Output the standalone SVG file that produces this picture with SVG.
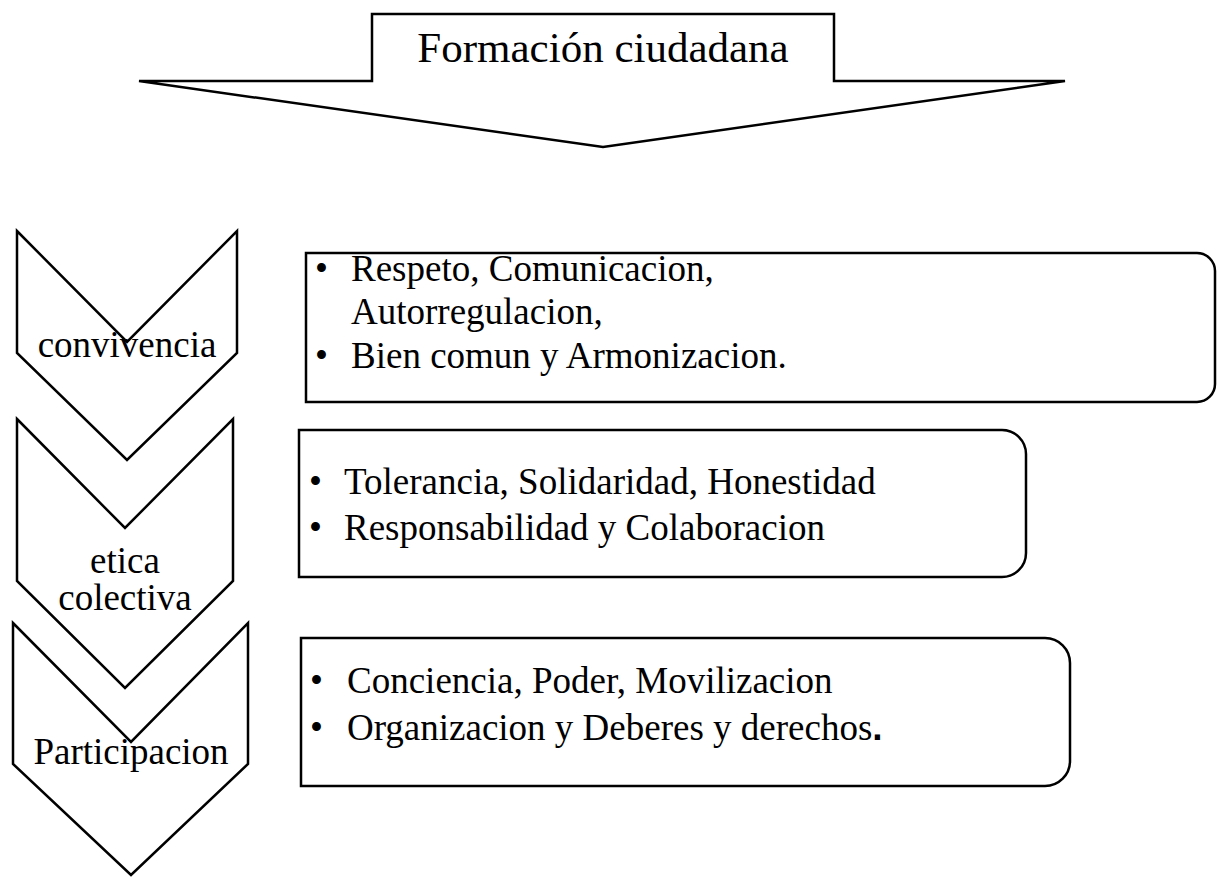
<svg xmlns="http://www.w3.org/2000/svg" width="1217" height="877" viewBox="0 0 1217 877">
<style>
.shape{fill:#fff;stroke:#000;stroke-width:2.5;stroke-linejoin:miter}
.t{font-family:"Liberation Serif","Times New Roman",serif;font-size:37px;fill:#000}
.c{text-anchor:middle}
</style>
<rect width="1217" height="877" fill="#fff"/>
<g id="title-arrow">
<polygon class="shape" points="139,81 372,81 372,14 834,14 834,81 1065,81 603,147"/>
<text class="t c" x="603" y="62" style="font-size:43px">Formación ciudadana</text>
</g>
<g id="chevron-convivencia">
<polygon class="shape" points="17,231 127,342 237,231 237,353 127,460 17,353"/>
<text class="t c" x="127" y="357">convivencia</text>
</g>
<g id="chevron-etica">
<polygon class="shape" points="17,419 125,528 233,419 233,581 125,688 17,581"/>
<text class="t c" x="125" y="573">etica</text>
<text class="t c" x="125" y="610">colectiva</text>
</g>
<g id="chevron-participacion">
<polygon class="shape" points="13,623 131,742 248,623 248,764 131,875 13,764"/>
<text class="t c" x="131" y="764">Participacion</text>
</g>
<g id="box-convivencia">
<path class="shape" d="M306,253 H1197 A18,18 0 0 1 1215,271 V384 A18,18 0 0 1 1197,402 H306 Z"/>
<text class="t" x="315" y="281">•</text>
<text class="t" x="351" y="281">Respeto, Comunicacion,</text>
<text class="t" x="351" y="324">Autorregulacion,</text>
<text class="t" x="315" y="368">•</text>
<text class="t" x="351" y="368">Bien comun y Armonizacion.</text>
</g>
<g id="box-etica">
<path class="shape" d="M299,430 H1002 A24,24 0 0 1 1026,454 V553 A24,24 0 0 1 1002,577 H299 Z"/>
<text class="t" x="309" y="494">•</text>
<text class="t" x="344" y="494">Tolerancia, Solidaridad, Honestidad</text>
<text class="t" x="309" y="540">•</text>
<text class="t" x="344" y="540">Responsabilidad y Colaboracion</text>
</g>
<g id="box-participacion">
<path class="shape" d="M301,638 H1045 A25,25 0 0 1 1070,663 V761 A25,25 0 0 1 1045,786 H301 Z"/>
<text class="t" x="310" y="693">•</text>
<text class="t" x="347" y="693">Conciencia, Poder, Movilizacion</text>
<text class="t" x="310" y="740">•</text>
<text class="t" x="347" y="740">Organizacion y Deberes y derechos<tspan style="font-family:'Liberation Sans',sans-serif;font-weight:bold">.</tspan></text>
</g>
<g id="connectors"></g>
</svg>
